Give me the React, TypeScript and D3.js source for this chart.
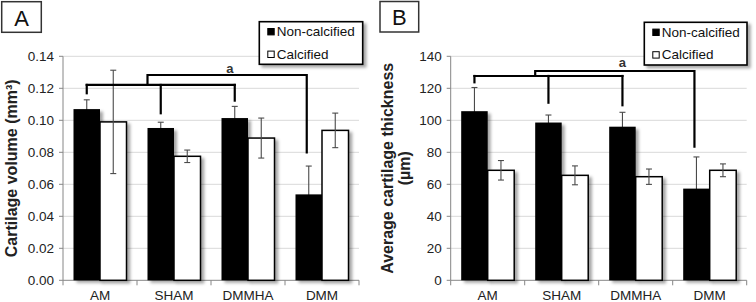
import React from "react";
import * as d3 from "d3";

// ---------- data ----------
const categories = ["AM", "SHAM", "DMMHA", "DMM"];
const seriesNames = ["Non-calcified", "Calcified"];

const volumeNonCalcified = [0.107, 0.0952, 0.1014, 0.0537];
const volumeNonCalcifiedErr = [0.0058, 0.0036, 0.0073, 0.0177];
const volumeCalcified = [0.099, 0.0775, 0.0889, 0.0937];
const volumeCalcifiedErr = [0.0323, 0.0039, 0.0125, 0.0108];
const volumeTicks = [0, 0.02, 0.04, 0.06, 0.08, 0.1, 0.12, 0.14];

const thickNonCalcified = [105.7, 98.6, 96.0, 57.3];
const thickNonCalcifiedErr = [14.8, 4.7, 9.0, 19.8];
const thickCalcified = [68.75, 65.6, 64.75, 68.75];
const thickCalcifiedErr = [6.1, 5.9, 4.8, 4.0];
const thickTicks = [0, 20, 40, 60, 80, 100, 120, 140];

// significance brackets (values in data units)
const volumeBracketLower = { level: 0.1221, drops: [0.1169, 0.1044, 0.1123] }; // AM, SHAM, DMMHA
const volumeBracketUpper = { level: 0.1283, end: 0.08 }; // to DMM
const volumeLetter = { text: "a", value: 0.1321 };
const thickBracketLower = { level: 127.7, drops: [123.75, 111, 109.4] };
const thickBracketUpper = { level: 130.8, end: 83.5 };
const thickLetter = { text: "a", value: 136.4 };

const FONT = "'Liberation Sans', Arial, Helvetica, sans-serif";

type PanelProps = {
  letter: string;
  letterBox: [number, number, number, number];
  left: number;
  right: number;
  top: number;
  bottom: number;
  max: number;
  ticks: number[];
  tickFmt: (v: number) => string;
  nonCalc: number[];
  nonCalcErr: number[];
  calc: number[];
  calcErr: number[];
  lower: { level: number; drops: number[] };
  upper: { level: number; end: number };
  sig: { text: string; value: number };
  sigDx: number;
  legend: [number, number, number, number];
  labelLines: string[];
  labelX: number[];
};

function Panel(p: PanelProps) {
  const x = d3.scaleBand<string>().domain(categories).range([p.left, p.right]).paddingInner(0).paddingOuter(0);
  const xs = d3
    .scaleBand<string>()
    .domain(seriesNames)
    .range([0, x.bandwidth()])
    .paddingInner(0)
    .paddingOuter(0.396);
  const y = d3.scaleLinear().domain([0, p.max]).range([p.bottom, p.top]);
  const bw = xs.bandwidth();
  const centerOf = (c: string, s: string) => (x(c) as number) + (xs(s) as number) + bw / 2;

  const series = [
    { name: seriesNames[0], vals: p.nonCalc, errs: p.nonCalcErr, fill: "#000" },
    { name: seriesNames[1], vals: p.calc, errs: p.calcErr, fill: "#fff" },
  ];

  const [lx, ly, lw, lh] = p.legend;
  const [bx, by, bw2, bh] = p.letterBox;
  const labelCy = (p.top + p.bottom) / 2;

  const dropX = [0, 1, 2].map((i) => centerOf(categories[i], seriesNames[0]));
  const upperStart = (x(categories[1]) as number) + (xs(seriesNames[0]) as number);
  const upperEndX = centerOf(categories[3], seriesNames[0]) - 2;

  const errorBars = (s: (typeof series)[number]) =>
    categories.map((c, i) => {
      const cx = centerOf(c, s.name);
      const hi = y(s.vals[i] + s.errs[i]);
      const lo = y(s.vals[i] - s.errs[i]);
      return (
        <g key={"e" + s.name + c} stroke="#4a4a4a" strokeWidth={1.1}>
          <line x1={cx} x2={cx} y1={hi} y2={lo} />
          <line x1={cx - 3} x2={cx + 3} y1={hi} y2={hi} />
          <line x1={cx - 3} x2={cx + 3} y1={lo} y2={lo} />
        </g>
      );
    });

  return (
    <g fontFamily={FONT}>
      {/* panel letter */}
      <rect x={bx} y={by} width={bw2} height={bh} fill="#fff" stroke="#333" strokeWidth={1.5} />
      <text x={bx + bw2 / 2} y={by + bh / 2 + 1} textAnchor="middle" dominantBaseline="central" fontSize={22} fill="#111">
        {p.letter}
      </text>

      {/* gridlines */}
      {p.ticks.map((t) =>
        t === 0 ? null : (
          <line key={"g" + t} x1={p.left} x2={p.right} y1={y(t)} y2={y(t)} stroke="#d9d9d9" strokeWidth={1} />
        )
      )}

      {/* axes */}
      <line x1={p.left} x2={p.left} y1={p.top} y2={p.bottom} stroke="#868686" strokeWidth={1} />
      <line x1={p.left} x2={p.right} y1={p.bottom} y2={p.bottom} stroke="#868686" strokeWidth={1} />
      {p.ticks.map((t) => (
        <g key={"t" + t}>
          <line x1={p.left - 4} x2={p.left} y1={y(t)} y2={y(t)} stroke="#868686" />
          <text x={p.left - 9} y={y(t)} textAnchor="end" dominantBaseline="central" fontSize={13.5} fill="#222">
            {p.tickFmt(t)}
          </text>
        </g>
      ))}
      {[...categories.map((c) => x(c) as number), p.right].map((v, i) => (
        <line key={"xt" + i} x1={v} x2={v} y1={p.bottom} y2={p.bottom + 5} stroke="#868686" />
      ))}
      {categories.map((c) => (
        <text key={"xl" + c} x={(x(c) as number) + x.bandwidth() / 2} y={p.bottom + 15.5} textAnchor="middle" dominantBaseline="central" fontSize={13.5} fill="#222">
          {c}
        </text>
      ))}

      {/* error bars of the black series sit behind their bars */}
      {errorBars(series[0])}

      {/* bars */}
      {series.map((s) =>
        categories.map((c, i) => (
          <rect
            key={s.name + c}
            x={(x(c) as number) + (xs(s.name) as number)}
            y={y(s.vals[i])}
            width={bw}
            height={p.bottom - y(s.vals[i])}
            fill={s.fill}
            stroke="#000"
            strokeWidth={s.fill === "#000" ? 0 : 1.5}
            filter="url(#shadow)"
          />
        ))
      )}
      {errorBars(series[1])}

      {/* significance brackets */}
      <g stroke="#000" strokeWidth={2.2} fill="none" strokeLinecap="square">
        <line x1={dropX[0]} x2={dropX[2]} y1={y(p.lower.level)} y2={y(p.lower.level)} />
        {p.lower.drops.map((d, i) => (
          <line key={"d" + i} x1={dropX[i]} x2={dropX[i]} y1={y(p.lower.level)} y2={y(d)} />
        ))}
        <polyline
          points={`${upperStart},${y(p.lower.level)} ${upperStart},${y(p.upper.level)} ${upperEndX},${y(p.upper.level)} ${upperEndX},${y(p.upper.end)}`}
        />
      </g>
      <text x={dropX[2] + p.sigDx} y={y(p.sig.value)} textAnchor="middle" dominantBaseline="central" fontSize={13} fontWeight="bold" fill="#333">
        {p.sig.text}
      </text>

      {/* y label */}
      {p.labelLines.map((l, i) => (
        <text
          key={"yl" + i}
          transform={`translate(${p.labelX[i]},${labelCy}) rotate(-90)`}
          textAnchor="middle"
          dominantBaseline="central"
          fontSize={16}
          fontWeight="bold"
          fill="#222"
        >
          {l}
        </text>
      ))}

      {/* legend */}
      <rect x={lx} y={ly} width={lw} height={lh} fill="#fff" stroke="#000" strokeWidth={1.6} filter="url(#shadow)" />
      {series.map((s, i) => {
        const cy = ly + 10 + i * 22.6;
        return (
          <g key={"lg" + i}>
            <rect x={lx + 8.5} y={cy - 3.2} width={6.4} height={6.4} fill={s.fill} stroke="#000" strokeWidth={1} />
            <text x={lx + 17.4} y={cy} dominantBaseline="central" fontSize={13.5} fill="#111">
              {s.name}
            </text>
          </g>
        );
      })}
    </g>
  );
}

export default function App() {
  return (
    <div style={{ position: "fixed", left: 0, top: 0 }}>
      <svg width={756} height={302} style={{ display: "block", background: "#fff" }}>
        <defs>
          <filter id="shadow" x="-20%" y="-20%" width="150%" height="150%">
            <feDropShadow dx={3} dy={2.5} stdDeviation={1.4} floodColor="#000" floodOpacity={0.35} />
          </filter>
        </defs>
        <Panel
          letter="A"
          letterBox={[1.7, 1.7, 39.6, 30.6]}
          left={63}
          right={359}
          top={56.3}
          bottom={280.3}
          max={0.14}
          ticks={volumeTicks}
          tickFmt={d3.format(".2f")}
          nonCalc={volumeNonCalcified}
          nonCalcErr={volumeNonCalcifiedErr}
          calc={volumeCalcified}
          calcErr={volumeCalcifiedErr}
          lower={volumeBracketLower}
          upper={volumeBracketUpper}
          sig={volumeLetter}
          sigDx={-5}
          legend={[259.3, 21.7, 103.4, 42.6]}
          labelLines={["Cartilage volume (mm³)"]}
          labelX={[11.5]}
        />
        <Panel
          letter="B"
          letterBox={[380, 1.5, 38.7, 30.5]}
          left={450.7}
          right={746.7}
          top={56.3}
          bottom={280.3}
          max={140}
          ticks={thickTicks}
          tickFmt={d3.format("d")}
          nonCalc={thickNonCalcified}
          nonCalcErr={thickNonCalcifiedErr}
          calc={thickCalcified}
          calcErr={thickCalcifiedErr}
          lower={thickBracketLower}
          upper={thickBracketUpper}
          sig={thickLetter}
          sigDx={0}
          legend={[644.3, 22.3, 102.7, 42.7]}
          labelLines={["Average cartilage thickness", "(µm)"]}
          labelX={[387, 404]}
        />
      </svg>
    </div>
  );
}
